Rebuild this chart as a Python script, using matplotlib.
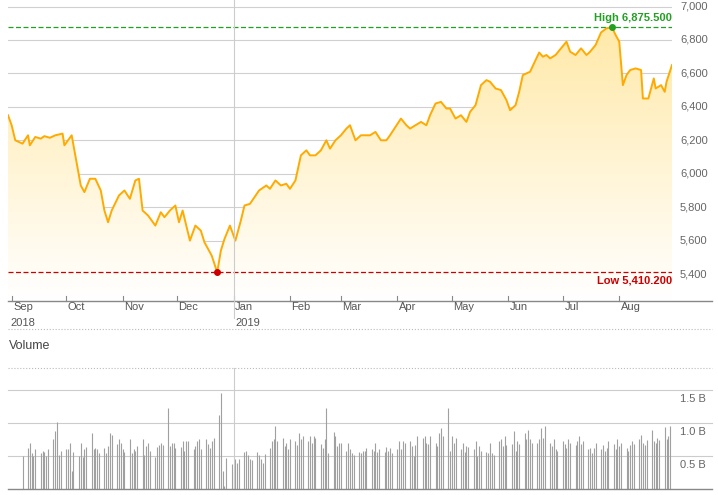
import matplotlib
matplotlib.use("Agg")
import matplotlib.pyplot as plt
import matplotlib.dates as mdates
from matplotlib.lines import Line2D
from matplotlib.patches import Polygon
from matplotlib.colors import LinearSegmentedColormap
import numpy as np
import pandas as pd

start_date = "2018-08-30"
# day offsets from start and closing prices
day_offsets = [0,2,4,8,11,12,15,18,20,23,26,
               30,31,35,37,40,42,45,48,51,53,55,57,61,64,67,70,72,74,77,81,84,86,89,92,94,96,98,100,
               103,106,108,112,115,117,119,122,125,128,130,133,138,142,144,147,150,153,155,158,161,164,166,169,172,
               175,177,180,183,186,188,191,194,197,199,202,205,208,210,213,216,219,221,224,227,230,232,235,238,241,
               243,246,249,252,254,257,260,263,265,268,271,274,276,279,281,283,285,287,290,292,294,296,298,301,304,
               307,309,312,315,318,320,323,326,329,332,334,336,338,340,342,345,348,349,352,355,356,359,361,362,365]
prices = [6350,6290,6200,6180,6230,6170,6220,6210,6225,6215,6230,
          6240,6170,6230,6110,5930,5890,5970,5970,5900,5780,5710,5780,5870,5900,5850,5960,5970,5780,5750,5690,5770,5740,5780,5810,5710,5780,5690,5600,
          5690,5660,5590,5510,5410.2,5540,5610,5690,5600,5720,5810,5820,5900,5930,5910,5960,5930,5940,5910,5960,6110,6140,6110,6110,6140,
          6200,6150,6200,6230,6270,6290,6200,6230,6230,6230,6250,6200,6200,6230,6280,6330,6290,6270,6290,6310,6290,6350,6420,6430,6390,
          6390,6330,6350,6310,6370,6410,6530,6560,6550,6510,6500,6440,6380,6410,6490,6590,6600,6610,6680,6725,6700,6710,6690,6710,6750,
          6790,6730,6710,6750,6710,6730,6770,6845,6870,6875.5,6830,6790,6530,6590,6620,6630,6620,6450,6450,6570,6510,6530,6490,6550,6650]

# daily volume (billions), Sep 2018 - Aug 2019
volume = [0.50,0.62,0.70,0.55,0.50,0.60,0.55,0.58,0.56,0.50,0.60,0.75,0.88,1.02,0.52,0.58,0.60,0.60,0.70,0.28,0.56,
          0.50,0.70,0.48,0.60,0.64,0.85,0.60,0.62,0.60,0.55,0.62,0.55,0.65,0.85,0.82,0.68,0.75,0.70,0.60,0.56,0.75,0.55,
          0.60,0.57,0.65,0.75,0.52,0.65,0.70,0.58,0.48,0.63,0.66,0.70,0.66,1.22,0.65,0.70,0.70,0.62,0.64,0.72,0.58,0.72,
          0.72,0.60,0.65,0.72,0.76,0.60,0.75,0.68,0.62,0.72,0.78,1.12,1.45,0.28,0.05,0.47,0.38,0.25,0.45,0.40,
          0.45,0.56,0.58,0.52,0.45,0.44,0.56,0.52,0.45,0.40,0.53,0.62,0.72,0.75,0.95,0.73,0.77,0.65,0.70,0.60,0.75,0.72,
          0.66,0.85,0.75,0.80,0.72,0.80,0.70,0.80,0.78,0.68,0.62,0.75,1.22,0.55,0.87,0.80,0.65,0.70,0.70,0.58,0.70,
          0.60,0.55,0.52,0.56,0.54,0.58,0.58,0.62,0.60,0.58,0.70,0.56,0.60,0.56,0.64,0.58,0.62,0.55,0.60,
          0.72,0.60,0.73,0.70,0.73,0.65,0.50,0.67,0.80,0.77,0.80,0.70,0.68,0.80,0.70,0.65,0.85,0.92,0.80,1.22,0.58,
          0.80,0.70,0.78,0.60,0.70,0.56,0.65,0.63,0.60,0.72,0.50,0.65,0.58,0.56,0.54,0.70,0.55,0.52,
          0.72,0.75,0.65,0.80,0.66,0.68,0.88,0.58,0.72,0.68,0.85,0.75,0.90,0.75,0.70,0.70,0.75,0.92,0.78,0.95,
          0.70,0.65,0.75,0.60,0.58,0.72,0.68,0.62,0.75,0.70,0.66,0.72,0.80,0.68,0.72,0.60,0.62,
          0.55,0.62,0.70,0.60,0.66,0.58,0.62,0.72,0.68,0.60,0.75,0.65,0.70,0.62,0.58,0.66,
          0.72,0.68,0.76,0.82,0.70,0.66,0.74,0.90,0.72,0.70,0.78,0.74,0.94,0.76,0.80,0.95]

high_value, low_value = 6875.5, 5410.2
month_labels = ["Sep","Oct","Nov","Dec","Jan","Feb","Mar","Apr","May","Jun","Jul","Aug"]
price_ticks = [5400,5600,5800,6000,6200,6400,6600,6800,7000]
vol_ticks = [0.5,1.0,1.5]

t0 = pd.Timestamp(start_date)
pdates = [t0 + pd.Timedelta(days=d) for d in day_offsets]
vdates = pd.bdate_range("2018-08-31", "2019-08-29")
n = min(len(vdates), len(volume))
vdates = vdates[-n:]
volume = volume[-n:]

W, H = 718, 495
plt.rcParams['font.family'] = ['Liberation Sans', 'DejaVu Sans']
fig = plt.figure(figsize=(W/100, H/100), dpi=100)
xl = (mdates.date2num(t0), mdates.date2num(pd.Timestamp("2019-08-30")))

def fx(px): return px / W
def fy(py): return 1 - py / H

ax = fig.add_axes([fx(8), fy(300), fx(664), 300/H])
ax.set_xlim(*xl)
ax.set_ylim(5245, 7039)
for s in ax.spines.values(): s.set_visible(False)
ax.set_xticks([]); ax.set_yticks([])
for t in price_ticks:
    ax.axhline(t, color="#d0d0d0", lw=0.8, zorder=0)
    ax.text(1.012, t, f"{t:,}", transform=ax.get_yaxis_transform(), ha="left", va="center",
            fontsize=8, color="#666666")
xn = mdates.date2num(pdates)
grad = np.linspace(0, 1, 256).reshape(-1, 1)
cmap = LinearSegmentedColormap.from_list("g", ["#ffffff", "#ffe9a8"])
im = ax.imshow(grad, extent=[xl[0], xl[1], 5245, 6900], origin="lower", cmap=cmap, aspect="auto", zorder=1)
poly = Polygon(np.column_stack([np.r_[xn, xn[-1], xn[0]], np.r_[prices, 5245, 5245]]), closed=True,
               facecolor="none", edgecolor="none")
ax.add_patch(poly)
im.set_clip_path(poly)
ax.plot(xn, prices, color="#ffaa00", lw=1.4, zorder=3)
ax.axhline(high_value, color="#22a022", lw=0.9, ls=(0, (4, 2)), zorder=2)
ax.axhline(low_value, color="#cc0000", lw=0.9, ls=(0, (4, 2)), zorder=2)
ih = int(np.argmax(prices)); il = int(np.argmin(prices))
ax.plot(xn[ih], high_value, "o", color="#22a022", ms=4, zorder=4)
ax.plot(xn[il], low_value, "o", color="#cc0000", ms=4, zorder=4)
ax.text(1.0, high_value + 25, f"High {high_value:,.3f}", transform=ax.get_yaxis_transform(),
        ha="right", va="bottom", color="#22a022", fontsize=8, fontweight="bold")
ax.text(1.0, low_value - 20, f"Low {low_value:,.3f}", transform=ax.get_yaxis_transform(),
        ha="right", va="top", color="#cc0000", fontsize=8, fontweight="bold")

def xfrac(d):
    return fx(8) + (mdates.date2num(d) - xl[0]) / (xl[1] - xl[0]) * fx(664)

fig.add_artist(Line2D([fx(8), fx(712)], [fy(301), fy(301)], color="#888888", lw=1))
fig.add_artist(Line2D([fx(8), fx(712)], [fy(329), fy(329)], color="#bbbbbb", lw=0.8, ls=":"))
months = pd.date_range("2018-09-01", periods=12, freq="MS")
for m, lab in zip(months, month_labels):
    xf = xfrac(m)
    fig.add_artist(Line2D([xf, xf], [fy(301), fy(296)], color="#888888", lw=0.8))
    fig.text(xf + 0.002, fy(307), lab, fontsize=8, color="#555555", va="center")
jf = xfrac(pd.Timestamp("2019-01-01"))
fig.text(fx(10), fy(323), "2018", fontsize=8, color="#555555", va="center")
fig.text(jf + 0.002, fy(323), "2019", fontsize=8, color="#555555", va="center")
fig.add_artist(Line2D([jf, jf], [fy(0), fy(318)], color="#cccccc", lw=0.8))
fig.add_artist(Line2D([jf, jf], [fy(368), fy(489)], color="#cccccc", lw=0.8))
fig.text(fx(9), fy(346), "Volume", fontsize=9, color="#444444", va="center")

vax = fig.add_axes([fx(8), fy(489), fx(664), 121/H])
vax.set_xlim(*xl); vax.set_ylim(0, 1.833)
vax.patch.set_alpha(0)
for s in vax.spines.values(): s.set_visible(False)
vax.set_xticks([]); vax.set_yticks([])
vax.vlines(mdates.date2num(vdates), 0, volume, color="#a0a0a0", lw=0.8, zorder=2)
for t in vol_ticks:
    fig.add_artist(Line2D([fx(8), fx(712)], [fy(489 - t*66), fy(489 - t*66)], color="#cccccc", lw=0.8, zorder=0))
    vax.text(1.012, t - 0.06, f"{t:.1f} B", transform=vax.get_yaxis_transform(), ha="left",
             va="top", fontsize=8, color="#666666")
fig.add_artist(Line2D([fx(8), fx(712)], [fy(368), fy(368)], color="#bbbbbb", lw=0.8, ls=":"))
fig.add_artist(Line2D([fx(8), fx(712)], [fy(489), fy(489)], color="#888888", lw=1))

fig.savefig("out.png", dpi=100)
